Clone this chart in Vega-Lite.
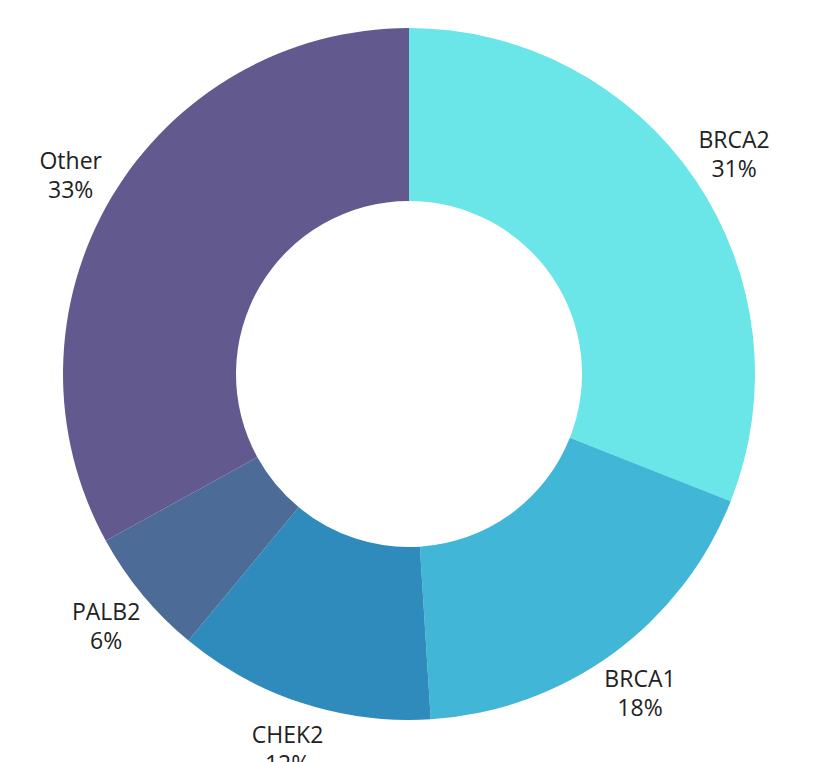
{
  "$schema": "https://vega.github.io/schema/vega-lite/v6.json",
  "autosize": {"type": "none"},
  "width": 818,
  "height": 748,
  "padding": {"left": 0, "top": 0, "right": 6, "bottom": 14},
  "background": "white",
  "config": {"view": {"stroke": null}},
  "data": {
    "values": [
      {"gene": "BRCA2", "value": 31, "idx": 1},
      {"gene": "BRCA1", "value": 18, "idx": 2},
      {"gene": "CHEK2", "value": 12, "idx": 3},
      {"gene": "PALB2", "value": 6, "idx": 4},
      {"gene": "Other", "value": 33, "idx": 5}
    ]
  },
  "transform": [
    {"calculate": "datum.gene + '\\n' + datum.value + '%'", "as": "label"}
  ],
  "encoding": {
    "theta": {"field": "value", "type": "quantitative", "stack": true},
    "order": {"field": "idx", "type": "quantitative"}
  },
  "layer": [
    {
      "mark": {"type": "arc", "outerRadius": 346, "innerRadius": 173},
      "encoding": {
        "color": {
          "field": "gene",
          "type": "nominal",
          "scale": {
            "domain": ["BRCA2", "BRCA1", "CHEK2", "PALB2", "Other"],
            "range": ["#6ae5e8", "#42b6d6", "#2e8bbb", "#4c6b96", "#625a8f"]
          },
          "legend": null
        }
      }
    },
    {
      "mark": {
        "type": "text",
        "radius": 393,
        "dy": -12,
        "font": "Open Sans",
        "fontSize": 23,
        "lineBreak": "\n",
        "lineHeight": 29,
        "baseline": "middle",
        "align": "center",
        "color": "#222222"
      },
      "encoding": {
        "text": {"field": "label", "type": "nominal"}
      }
    }
  ]
}
